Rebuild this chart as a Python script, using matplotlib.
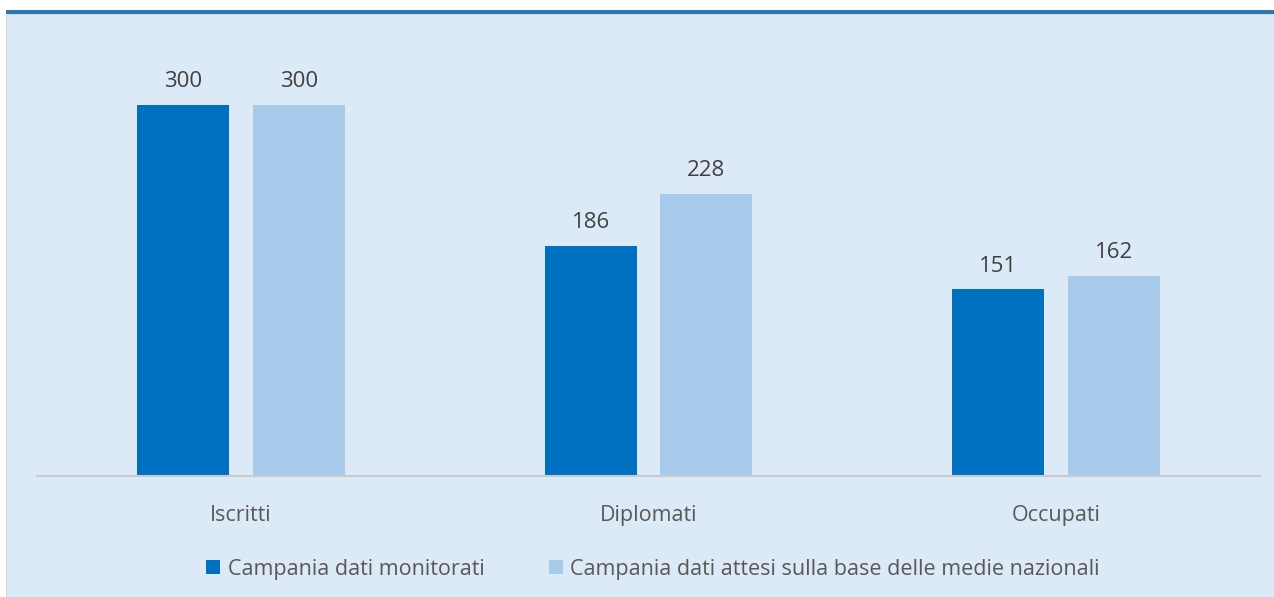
import numpy as np
import matplotlib.pyplot as plt
from matplotlib.patches import Rectangle

# Dati
categorie = ['Iscritti', 'Diplomati', 'Occupati']
monitorati = [300, 186, 151]
attesi = [300, 228, 162]
etichette = ['Campania dati monitorati',
             'Campania dati attesi sulla base delle medie nazionali']

W, H = 1274, 597
bg = '#dce9f6'
scuro = '#0070c0'
chiaro = '#a9cbeb'

plt.rcParams['font.family'] = ['Open Sans', 'DejaVu Sans']

fig = plt.figure(figsize=(W / 100, H / 100), dpi=100)
fig.patch.set_facecolor('white')

# cornice: sfondo, barra superiore, bordo sinistro
fig.patches.append(Rectangle((7 / W, 0), 1, (H - 15) / H, transform=fig.transFigure,
                             facecolor=bg, edgecolor='none', zorder=-10))
fig.patches.append(Rectangle((6 / W, (H - 15) / H), 1, 1.5 / H, transform=fig.transFigure,
                             facecolor='#d0d4d8', edgecolor='none', zorder=-9))
fig.patches.append(Rectangle((6 / W, (H - 14) / H), 1, 4 / H, transform=fig.transFigure,
                             facecolor='#2e75b6', edgecolor='none', zorder=-8))
fig.patches.append(Rectangle((6 / W, 0), 1.5 / W, (H - 14) / H, transform=fig.transFigure,
                             facecolor='#d0d4d8', edgecolor='none', zorder=-9))

ax = fig.add_axes([37 / W, (H - 476) / H, (1260 - 37) / W, (476 - 20) / H])
ax.set_facecolor('none')
ax.set_zorder(1)

x = np.arange(len(categorie))
w = 0.226
off = 0.142
b1 = ax.bar(x - off, monitorati, w, color=scuro, label=etichette[0])
b2 = ax.bar(x + off, attesi, w, color=chiaro, label=etichette[1])

for bars in (b1, b2):
    for r in bars:
        ax.annotate(f'{int(r.get_height())}', (r.get_x() + r.get_width() / 2, r.get_height()),
                    xytext=(0, 9), textcoords='offset points', ha='center', va='bottom',
                    fontsize=16, color='#404040')

ax.set_xlim(-0.5, 2.5)
ax.set_ylim(0, (476 - 20) / 1.237)
ax.set_yticks([])
ax.set_xticks(x)
ax.set_xticklabels(categorie, fontsize=15.5, color='#595959')
ax.tick_params(axis='x', length=0, pad=21)
for s in ['top', 'right', 'left']:
    ax.spines[s].set_visible(False)
ax.spines['bottom'].set_color('#c8cbce')
ax.spines['bottom'].set_linewidth(1.5)

fig.legend(loc='center', bbox_to_anchor=(653 / W, (H - 569) / H), ncol=2, frameon=False,
           fontsize=15.5, labelcolor='#595959', handlelength=0.65, handleheight=0.65,
           handletextpad=0.35, columnspacing=3.0)

plt.savefig('out.png', dpi=100, facecolor=fig.get_facecolor())
